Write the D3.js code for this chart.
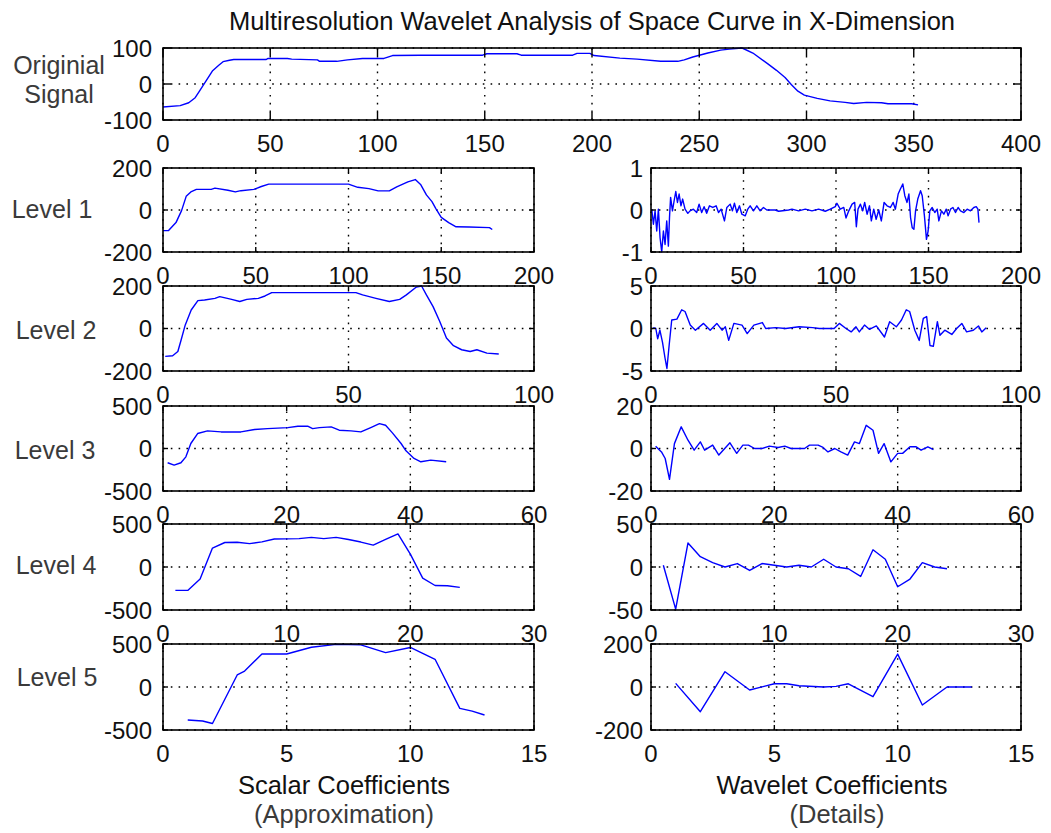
<!DOCTYPE html>
<html>
<head>
<meta charset="utf-8">
<script src="https://cdn.jsdelivr.net/npm/d3@7/dist/d3.min.js"></script>
<style>
  html, body { margin: 0; padding: 0; background: #fff; }
  svg { display: block; font-family: "Liberation Sans", Arial, Helvetica, sans-serif; }
</style>
</head>
<body>
<svg id="chart" width="1051" height="833"></svg>
<script>
// ---- Text ----
const titleText = "Multiresolution Wavelet Analysis of Space Curve in X-Dimension";
const rowLabels = ["Level 1", "Level 2", "Level 3", "Level 4", "Level 5"];
const originalLabel = ["Originial", "Signal"];
const leftAxisLabel = ["Scalar Coefficients", "(Approximation)"];
const rightAxisLabel = ["Wavelet Coefficients", "(Details)"];

// ---- Tick values ----
const origXTicks = [0, 50, 100, 150, 200, 250, 300, 350, 400];
const origYTicks = [-100, 0, 100];
const xTicksL1 = [0, 50, 100, 150, 200];
const xTicksL2 = [0, 50, 100];
const xTicksL3 = [0, 20, 40, 60];
const xTicksL4 = [0, 10, 20, 30];
const xTicksL5 = [0, 5, 10, 15];
const yTicksA12 = [-200, 0, 200];
const yTicksA345 = [-500, 0, 500];
const yTicksD1 = [-1, 0, 1];
const yTicksD2 = [-5, 0, 5];
const yTicksD3 = [-20, 0, 20];
const yTicksD4 = [-50, 0, 50];
const yTicksD5 = [-200, 0, 200];

// ---- Series: [sample index, value] ----
const originalSignal = [
  [0,-64],[8,-60],[12,-52],[15,-38],[17,-20],[20,8],[23,36],[26,52],[28,62],[31,66],[33,68],[40,68],[48,68],
  [49,71],[58,71],[60,69],[72,67],[73,63],[81,63],[86,67],[93,71],[103,71],[107,79],[120,80],[149,80],
  [151,84],[165,84],[167,80],[191,80],[193,85],[199,85],[201,79],[213,72],[221,69],[232,63],[240,63],
  [243,67],[247,75],[254,86],[260,94],[264,97],[270,100],[275,86],[282,56],[286,38],[290,18],[293,-2],
  [296,-20],[299,-31],[305,-40],[311,-47],[318,-51],[322,-54],[328,-51],[335,-52],[338,-55],[349,-55],[352,-58]
];
const approxL1 = [
  [0,-98],[3,-98],[7,-60],[10,-3],[12.5,65],[15,86],[18,98],[26,98],[28,104],[35,94],[39,86],[42,92],
  [49,98],[53,112],[57,123],[80,123],[100,123],[105,108],[111,102],[116,91],[122,91],[126,110],[132,134],
  [136,145],[139,120],[142,72],[145,40],[147,8],[150,-35],[154,-60],[158,-80],[165,-81],[176,-84],[177.5,-93]
];
const detailL1 = [
  [0.4,0.02],[1.3,-0.34],[2.2,-0.02],[3.1,-0.5],[4,0.02],[4.9,-0.66],[5.8,-1.0],[6.7,-0.5],[7.6,-0.82],
  [8.5,-0.26],[9.4,-0.86],[10,-0.18],[10.6,0.3],[11.6,-0.02],[12.5,0.22],[13.4,0.44],[14.3,0.18],[15.2,0.38],
  [16.2,0.1],[17.1,0.26],[18.4,0.02],[19.9,-0.08],[21.1,-0.02],[22.9,0.02],[24.7,-0.06],[26,0.14],[27.4,-0.06],
  [28.7,0.08],[30.1,-0.08],[31.6,0.1],[33.4,0.06],[35.2,0.1],[36.5,-0.06],[37.9,0.02],[39.7,-0.26],[41,0.06],
  [42.8,0.14],[44,-0.02],[45.1,0.16],[46.4,-0.06],[47.8,0.1],[49.1,-0.1],[50.9,-0.14],[52.3,0.02],[53.6,0.1],
  [55.4,-0.02],[57.2,0.1],[59,-0.02],[60.8,0.06],[62.6,0],[67.1,0],[69,-0.03],[74.4,0],[76.2,0.02],[79.8,-0.02],
  [83.4,0.02],[87,-0.02],[90.6,0.02],[94.2,-0.03],[96.9,0.02],[99.6,0.08],[100.5,0.16],[102.3,0.02],[104.2,0.06],
  [105.4,-0.19],[106.9,-0.02],[108.7,0.14],[110.1,0.18],[111,-0.4],[111.9,0.02],[113.2,0.14],[114.4,-0.02],
  [115.5,0.18],[116.8,-0.1],[118.1,0.1],[119.1,-0.26],[120.4,0.02],[121.7,-0.22],[123.1,0],[124.5,-0.26],
  [126,0.18],[127.6,0.1],[129.4,0.06],[130.9,0.18],[132.1,0.02],[133.6,0.38],[134.8,0.5],[136.1,0.62],
  [137.2,0.34],[138.4,0.18],[139.4,0.38],[140.3,-0.18],[141.2,-0.42],[142.1,-0.46],[143,-0.02],[144.2,0.26],
  [145.7,0.46],[146.6,0.34],[147.8,-0.14],[148.9,-0.7],[149.8,-0.5],[150.7,-0.02],[152,0.06],[153.4,-0.06],
  [154.7,0.02],[155.6,-0.26],[157,-0.02],[158.3,-0.1],[159.6,0.02],[160.6,-0.14],[161.9,0.02],[163.2,0.06],
  [164.6,-0.06],[166,0.06],[167.3,-0.02],[169.1,-0.06],[170.9,0.02],[172.7,-0.02],[174.5,0.06],[175.8,0.08],
  [176.7,0.02],[177.3,-0.3]
];
const approxL2 = [
  [0.6,-131],[2.6,-128],[4,-108],[4.9,-53],[6,17],[7.6,87],[9.4,131],[11.2,134],[14,142],[15.3,150],
  [18.5,137],[20.7,127],[22.6,137],[25.7,142],[27.5,153],[29.3,169],[52,169],[53.8,158],[57.4,142],
  [61,127],[63.8,137],[65.6,158],[68.3,195],[69.7,200],[71,158],[72.8,103],[74.6,33],[76.4,-45],
  [78.3,-81],[80.5,-100],[82.8,-108],[84.6,-100],[87.3,-116],[90.5,-120]
];
const detailL2 = [
  [0.6,0.1],[1.3,0],[1.8,-1.2],[2.4,-0.2],[3.1,-1.6],[3.8,-3.5],[4.3,-4.7],[4.9,-2.0],[5.6,1.0],[7,1.1],
  [8.3,2.2],[9.2,2.0],[10.6,0.4],[12,-0.2],[14.2,0.6],[16,-0.2],[17.8,0.6],[19.2,-0.2],[20.1,0.2],[21,-1.4],
  [22.4,0.6],[24.6,0.4],[26,-0.6],[27.8,0.4],[30.1,0.7],[31,0],[33.7,0.1],[36.4,0],[40,0.2],[43.7,0.1],
  [45.5,0],[49.5,0],[50.9,0.6],[52.7,0],[54.1,-0.4],[55.4,0.2],[56.3,-0.4],[57.7,0.4],[59,-0.1],[60.9,0.3],
  [63.1,-1.0],[64.5,0.8],[66.3,0.2],[67.7,1.0],[69,2.2],[69.9,2.0],[71.3,-0.2],[72.5,-1.4],[73.6,1.2],
  [74.5,1.4],[75.4,-2.0],[76.3,-2.1],[77.4,0.8],[78.1,-0.8],[79.4,-0.2],[81.3,-0.7],[82.6,0],[84,0.6],
  [85.3,-0.4],[87.1,-0.2],[88.5,0.3],[89.4,-0.4],[90.6,0.1]
];
const approxL3 = [
  [0.75,-168],[1.8,-195],[2.9,-168],[3.7,-98],[4.5,59],[5.6,176],[7.2,207],[9.4,195],[12.6,195],[14.8,223],
  [16.9,234],[20.2,246],[21.8,262],[23.4,262],[24.2,234],[25.3,246],[27.2,254],[28.5,215],[30.4,207],
  [32,195],[33.6,246],[35,293],[36,273],[37.1,184],[38.5,59],[39.3,-27],[40.6,-117],[41.7,-156],
  [43.3,-137],[45.8,-156]
];
const detailL3 = [
  [0.75,1.1],[1.7,-1.6],[2.3,-4.7],[3,-14.5],[3.8,2.3],[4.9,10.2],[6,3.9],[7,-0.8],[8,3.1],[8.7,-0.8],
  [10,1.6],[11,-3.1],[12.8,2.7],[13.9,-2.3],[14.9,1.6],[15.8,1.6],[16.8,0],[18,0],[19.2,1.1],[20.6,0.5],
  [21.7,1.1],[22.7,0],[24.9,0],[25.7,1.6],[27.1,1.6],[27.9,0.5],[28.7,-1.6],[29.8,0],[30.8,-1.6],[31.9,-3.1],
  [33,3.1],[33.8,2.3],[34.9,10.9],[36,8.6],[36.9,-2.3],[37.8,2.3],[38.9,-6.3],[40,-2.3],[40.8,-2.3],
  [42,0.8],[43,0.8],[43.8,-0.8],[44.9,0.8],[45.8,-0.5]
];
const approxL4 = [
  [1,-272],[2,-272],[3,-140],[4,220],[5,285],[6,288],[7,272],[8,292],[9,325],[10,327],[11,330],[12,345],
  [13,330],[14,345],[15,320],[16,290],[17,255],[18,320],[19,385],[20,150],[21,-130],[22,-215],[23,-218],[24,-237]
];
const detailL4 = [
  [1,2],[2,-49],[3,28],[4,12],[5,5],[6,0],[7,4],[8,-4],[9,4],[10,2],[11,0],[12,2],[13,0],[14,9],[15,0],
  [16,-2],[17,-11],[18,20],[19,9],[20,-23],[21,-14],[22,5],[23,0],[24,-2]
];
const approxL5 = [
  [1,-384],[1.6,-395],[2,-425],[3,140],[3.3,185],[4,384],[5,384],[6,462],[7,496],[8,490],[9,400],[10,460],
  [11,322],[12,-248],[12.5,-280],[13,-326]
];
const detailL5 = [
  [1,17],[2,-115],[3,71],[4,-14],[5,15],[5.5,15],[6,6],[7,0],[7.5,3],[8,15],[9,-45],[10,153],[11,-84],[12,0],[13,0]
];

// ---- Layout ----
const svg = d3.select("#chart");
const LEFT = [163, 534];
const RIGHT = [651, 1021];
const ROWS = [[168, 252], [286, 371], [406, 491], [524, 610], [644, 730]];

const panels = [
  { xr: [163, 1021], yr: [48, 120], xd: [0, 400], xt: origXTicks, yd: [-100, 100], yt: origYTicks, data: originalSignal, tick: 8, gap: 11 },
  { xr: LEFT,  yr: ROWS[0], xd: [0, 200], xt: xTicksL1, yd: [-200, 200], yt: yTicksA12,  data: approxL1, tick: 5, gap: 11 },
  { xr: RIGHT, yr: ROWS[0], xd: [0, 200], xt: xTicksL1, yd: [-1, 1],     yt: yTicksD1,   data: detailL1, tick: 5, gap: 8 },
  { xr: LEFT,  yr: ROWS[1], xd: [0, 100], xt: xTicksL2, yd: [-200, 200], yt: yTicksA12,  data: approxL2, tick: 5, gap: 11 },
  { xr: RIGHT, yr: ROWS[1], xd: [0, 100], xt: xTicksL2, yd: [-5, 5],     yt: yTicksD2,   data: detailL2, tick: 5, gap: 8 },
  { xr: LEFT,  yr: ROWS[2], xd: [0, 60],  xt: xTicksL3, yd: [-500, 500], yt: yTicksA345, data: approxL3, tick: 5, gap: 11 },
  { xr: RIGHT, yr: ROWS[2], xd: [0, 60],  xt: xTicksL3, yd: [-20, 20],   yt: yTicksD3,   data: detailL3, tick: 5, gap: 8 },
  { xr: LEFT,  yr: ROWS[3], xd: [0, 30],  xt: xTicksL4, yd: [-500, 500], yt: yTicksA345, data: approxL4, tick: 5, gap: 11 },
  { xr: RIGHT, yr: ROWS[3], xd: [0, 30],  xt: xTicksL4, yd: [-50, 50],   yt: yTicksD4,   data: detailL4, tick: 5, gap: 8 },
  { xr: LEFT,  yr: ROWS[4], xd: [0, 15],  xt: xTicksL5, yd: [-500, 500], yt: yTicksA345, data: approxL5, tick: 5, gap: 11 },
  { xr: RIGHT, yr: ROWS[4], xd: [0, 15],  xt: xTicksL5, yd: [-200, 200], yt: yTicksD5,   data: detailL5, tick: 5, gap: 8 }
];

const TICK_FONT = 24;
const INK = "#111";

panels.forEach(p => {
  const x = d3.scaleLinear().domain(p.xd).range(p.xr);
  const y = d3.scaleLinear().domain(p.yd).range([p.yr[1], p.yr[0]]);
  const g = svg.append("g");
  const [xa, xb] = p.xr, [ya, yb] = p.yr;

  // dotted grid at every tick
  const grid = g.append("g").attr("stroke", "#000").attr("stroke-width", 1.4).attr("stroke-dasharray", "1.6 6.2");
  grid.selectAll("line.gx").data(p.xt).join("line")
    .attr("x1", d => x(d)).attr("x2", d => x(d)).attr("y1", yb).attr("y2", ya);
  grid.selectAll("line.gy").data(p.yt).join("line")
    .attr("x1", xa).attr("x2", xb).attr("y1", d => y(d)).attr("y2", d => y(d));

  // signal
  g.append("path")
    .datum(p.data)
    .attr("fill", "none")
    .attr("stroke", "#0000ff")
    .attr("stroke-width", 1.4)
    .attr("stroke-linejoin", "round")
    .attr("d", d3.line().x(d => x(d[0])).y(d => y(d[1])));

  // inward tick marks on all four sides
  const ticks = g.append("g").attr("stroke", "#000").attr("stroke-width", 1.4);
  p.xt.forEach(t => {
    ticks.append("line").attr("x1", x(t)).attr("x2", x(t)).attr("y1", yb).attr("y2", yb - p.tick);
    ticks.append("line").attr("x1", x(t)).attr("x2", x(t)).attr("y1", ya).attr("y2", ya + p.tick);
  });
  p.yt.forEach(t => {
    ticks.append("line").attr("x1", xa).attr("x2", xa + p.tick).attr("y1", y(t)).attr("y2", y(t));
    ticks.append("line").attr("x1", xb).attr("x2", xb - p.tick).attr("y1", y(t)).attr("y2", y(t));
  });

  // axes box
  g.append("rect")
    .attr("x", xa).attr("y", ya).attr("width", xb - xa).attr("height", yb - ya)
    .attr("fill", "none").attr("stroke", "#000").attr("stroke-width", 1.6);

  // tick labels
  g.selectAll("text.xt").data(p.xt).join("text")
    .attr("x", d => x(d)).attr("y", yb + 32)
    .attr("text-anchor", "middle").attr("font-size", TICK_FONT).attr("fill", INK)
    .text(d => d3.format("d")(d).replace("−", "-"));
  g.selectAll("text.yt").data(p.yt).join("text")
    .attr("x", xa - p.gap).attr("y", d => y(d)).attr("dy", "0.36em")
    .attr("text-anchor", "end").attr("font-size", TICK_FONT).attr("fill", INK)
    .text(d => String(d));
});

// title
svg.append("text")
  .attr("x", 592).attr("y", 30)
  .attr("text-anchor", "middle").attr("font-size", 25.5).attr("fill", INK)
  .text(titleText);

// row labels
const LABEL_INK = "#3a3a3a";
svg.append("text").attr("x", 59).attr("y", 74).attr("text-anchor", "middle")
  .attr("font-size", 25).attr("fill", LABEL_INK).text(originalLabel[0]);
svg.append("text").attr("x", 59).attr("y", 103).attr("text-anchor", "middle")
  .attr("font-size", 25).attr("fill", LABEL_INK).text(originalLabel[1]);

const rowLabelPos = [[52, 209], [56, 330], [55, 450], [56, 565], [57, 677]];
rowLabels.forEach((t, i) => {
  svg.append("text").attr("x", rowLabelPos[i][0]).attr("y", rowLabelPos[i][1]).attr("dy", "0.36em")
    .attr("text-anchor", "middle").attr("font-size", 25).attr("fill", LABEL_INK).text(t);
});

// column axis labels
svg.append("text").attr("x", 344).attr("y", 794).attr("text-anchor", "middle")
  .attr("font-size", 25.5).attr("fill", INK).text(leftAxisLabel[0]);
svg.append("text").attr("x", 344).attr("y", 823).attr("text-anchor", "middle")
  .attr("font-size", 25.5).attr("fill", LABEL_INK).text(leftAxisLabel[1]);
svg.append("text").attr("x", 832).attr("y", 794).attr("text-anchor", "middle")
  .attr("font-size", 25.5).attr("fill", INK).text(rightAxisLabel[0]);
svg.append("text").attr("x", 837).attr("y", 823).attr("text-anchor", "middle")
  .attr("font-size", 25.5).attr("fill", LABEL_INK).text(rightAxisLabel[1]);
</script>
</body>
</html>
